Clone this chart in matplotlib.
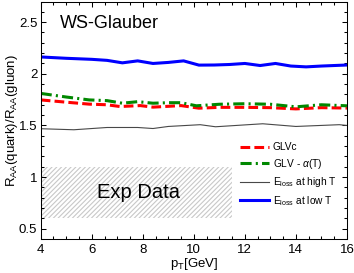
import matplotlib
matplotlib.use('Agg')
import matplotlib.pyplot as plt
import matplotlib.ticker as mticker
from matplotlib.patches import Rectangle

plt.rcParams.update({
    'font.family': ['Liberation Sans', 'DejaVu Sans'],
    'mathtext.fontset': 'custom',
    'mathtext.rm': 'Liberation Sans',
    'mathtext.it': 'Liberation Sans:italic',
    'lines.scale_dashes': False,
    'hatch.linewidth': 0.8,
})

# --- data ---
pt_blue = [4, 5, 6, 6.6, 7.2, 7.8, 8.4, 9, 9.6, 10.2, 10.8, 11.4, 12, 12.6, 13.2, 13.8, 14.4, 15, 16]
ratio_blue = [2.163, 2.15, 2.14, 2.13, 2.106, 2.125, 2.10, 2.11, 2.125, 2.084, 2.085, 2.09,
              2.10, 2.08, 2.10, 2.075, 2.067, 2.075, 2.085]

pt_red = [4, 5, 5.9, 6.6, 7.1, 7.9, 8.4, 9.0, 9.5, 10.2, 11, 12, 13, 14, 15, 16]
ratio_red = [1.747, 1.725, 1.706, 1.70, 1.683, 1.692, 1.677, 1.685, 1.692, 1.667, 1.675,
             1.675, 1.672, 1.66, 1.672, 1.668]

pt_green = [4, 5, 5.9, 6.6, 7.2, 7.8, 8.4, 9.0, 9.5, 10.1, 11, 12, 13, 14, 15, 16]
ratio_green = [1.81, 1.775, 1.747, 1.74, 1.715, 1.73, 1.715, 1.72, 1.72, 1.69, 1.705,
               1.71, 1.705, 1.68, 1.70, 1.69]

pt_gray = [4, 5.3, 6.6, 7.8, 8.4, 9, 10.25, 10.85, 12.7, 14, 15.7, 16]
ratio_gray = [1.468, 1.458, 1.48, 1.48, 1.47, 1.49, 1.507, 1.487, 1.516, 1.49, 1.507, 1.50]

exp_pt = (4.0, 11.5)
exp_ratio = (0.6, 1.1)

fig = plt.figure(figsize=(3.54, 2.73), dpi=100)
ax = fig.add_axes([0.115, 0.1245, 0.865, 0.87])

ax.add_patch(Rectangle((exp_pt[0], exp_ratio[0]), exp_pt[1] - exp_pt[0],
                       exp_ratio[1] - exp_ratio[0], facecolor='white',
                       edgecolor='#c8c8c8', linewidth=0, hatch='///////', zorder=1))
ax.text(7.83, 0.85, 'Exp Data', fontsize=14.5, ha='center', va='center')

ax.plot(pt_red, ratio_red, color='#ff0000', lw=2.2, dashes=(7, 3), label='GLVc')
ax.plot(pt_green, ratio_green, color='#008800', lw=2.2, dashes=(8, 3, 1.5, 3),
        label=r'GLV - $\alpha$(T)')
ax.plot(pt_gray, ratio_gray, color='#484848', lw=0.8, label=r'E$_{\rm loss}$ at high T')
ax.plot(pt_blue, ratio_blue, color='#0000ff', lw=2.2, label=r'E$_{\rm loss}$ at low T')

ax.text(4.75, 2.49, 'WS-Glauber', fontsize=13, ha='left', va='center')

ax.set_xlim(4, 16)
ax.set_ylim(0.4, 2.7)
ax.xaxis.set_major_locator(mticker.MultipleLocator(2))
ax.xaxis.set_minor_locator(mticker.MultipleLocator(0.5))
ax.yaxis.set_major_locator(mticker.FixedLocator([0.5, 1, 1.5, 2, 2.5]))
ax.yaxis.set_major_formatter(mticker.FuncFormatter(lambda v, p: f'{v:g}'))
ax.yaxis.set_minor_locator(mticker.MultipleLocator(0.1))
ax.tick_params(which='both', direction='in', top=True, right=True, width=0.75)
ax.tick_params(which='major', length=3.8, labelsize=9.5, pad=2.5)
ax.tick_params(which='minor', length=2)
ax.tick_params(axis='x', pad=3.5)
for s in ax.spines.values():
    s.set_linewidth(0.75)

ax.set_xlabel(r'p$_{\rm T}$[GeV]', fontsize=9.5)
ax.xaxis.set_label_coords(0.5, -0.07)
ax.set_ylabel(r'R$_{\rm AA}$(quark)/R$_{\rm AA}$(gluon)', fontsize=9.5)
ax.yaxis.set_label_coords(-0.068, 0.5)

ax.legend(loc='upper left', bbox_to_anchor=(235 / 354, 1 - 137 / 273),
          bbox_transform=fig.transFigure, frameon=False, fontsize=7.3,
          handlelength=2.9, handletextpad=0.3, labelspacing=0.45, borderpad=0)

fig.savefig('out.png', dpi=100)
